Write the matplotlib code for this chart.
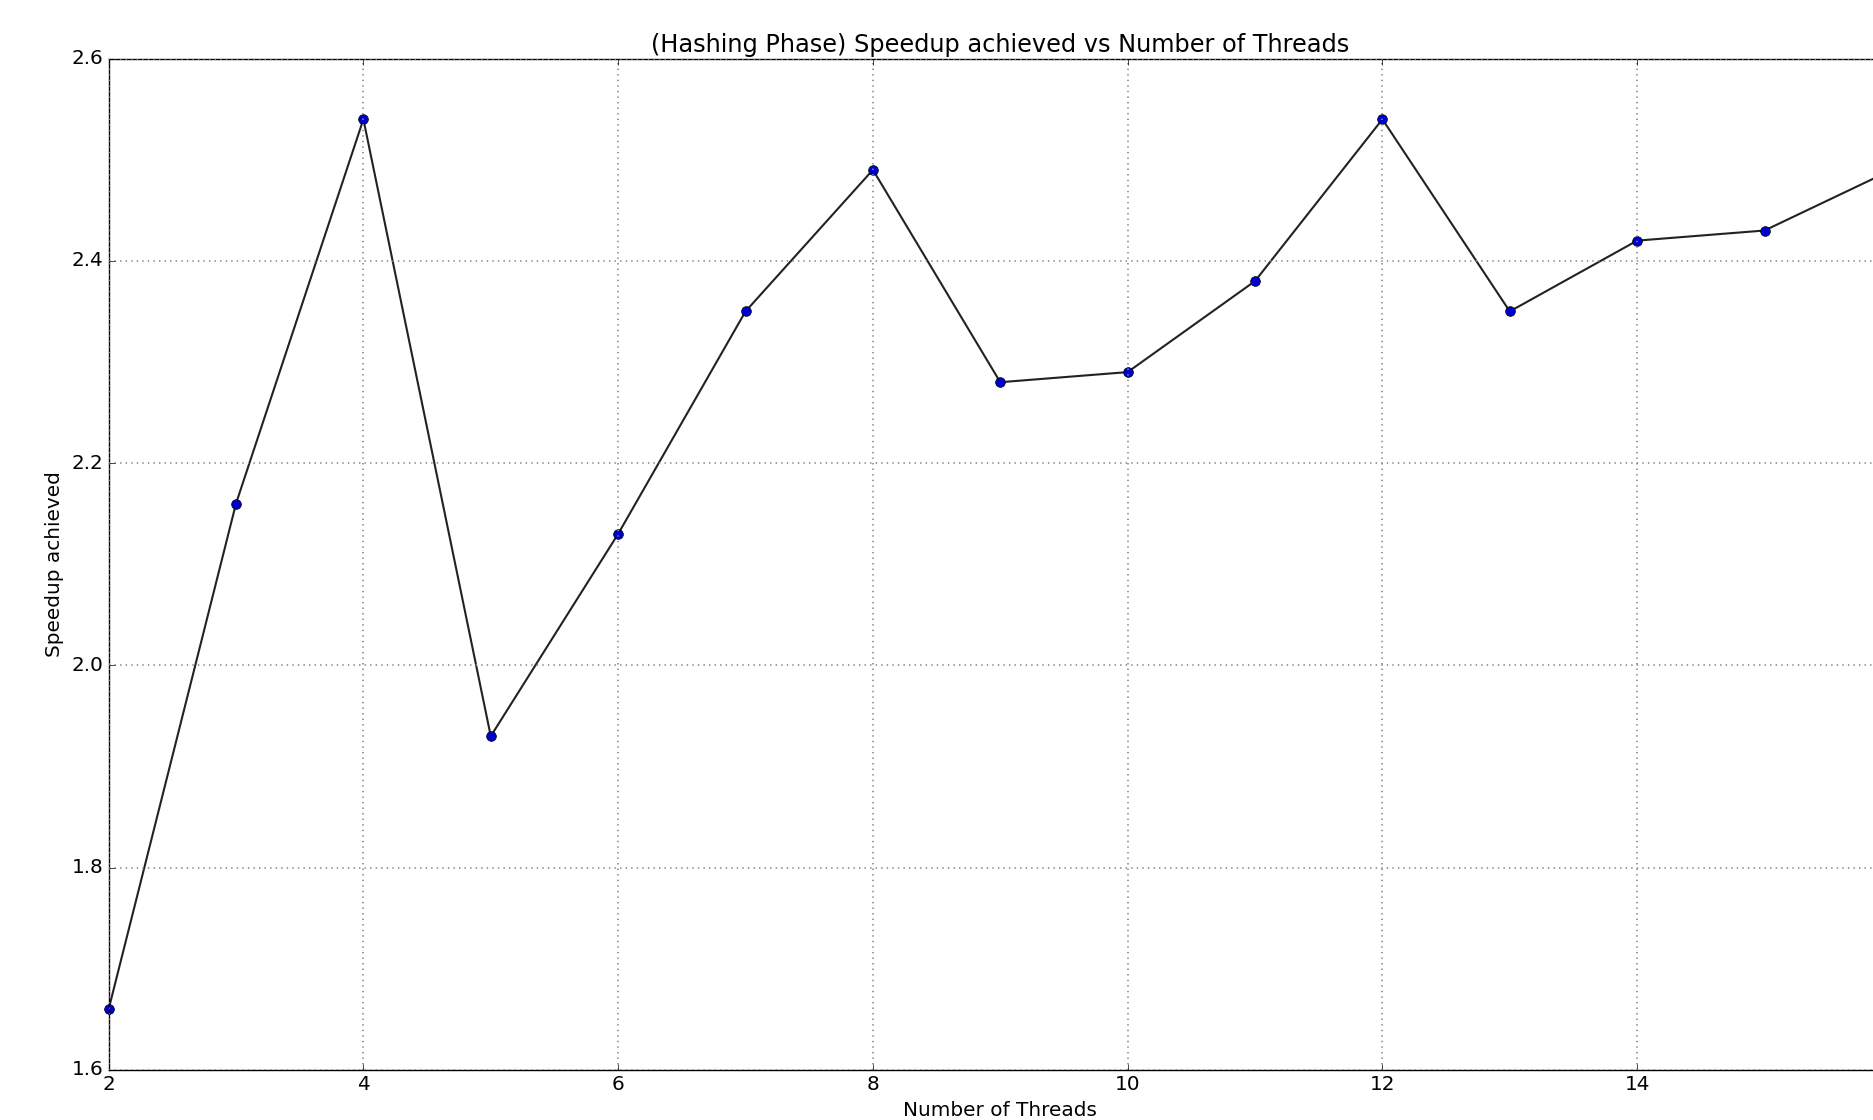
import matplotlib
matplotlib.use("Agg")
import matplotlib.pyplot as plt

plt.style.use('classic')

threads = [2, 3, 4, 5, 6, 7, 8, 9, 10, 11, 12, 13, 14, 15, 16]
speedup = [1.66, 2.16, 2.54, 1.93, 2.13, 2.35, 2.49, 2.28, 2.29, 2.38, 2.54, 2.35, 2.42, 2.43, 2.49]
xticks = [2, 4, 6, 8, 10, 12, 14]
yticks = [1.6, 1.8, 2.0, 2.2, 2.4, 2.6]

fig = plt.figure(figsize=(18.73, 11.2), dpi=100, facecolor='white')
ax = fig.add_axes([0.058, 0.0447, 0.9521, 0.903])
ax.plot(threads, speedup, color='#222222', linewidth=1.5, marker='o',
        markerfacecolor='#0000cc', markeredgecolor='#000000', markersize=7, clip_on=False)
ax.set_xlim(2, 16)
ax.set_ylim(1.6, 2.6)
ax.set_xticks(xticks)
ax.set_yticks(yticks)
ax.grid(True, linestyle=':', color='#888888', linewidth=1.2)
ax.tick_params(labelsize=14.4)
ax.set_title('(Hashing Phase) Speedup achieved vs Number of Threads', fontsize=17.28)
ax.set_xlabel('Number of Threads', fontsize=14.4)
ax.set_ylabel('Speedup achieved', fontsize=14.4)
fig.savefig('out.png', dpi=100, facecolor='white')
